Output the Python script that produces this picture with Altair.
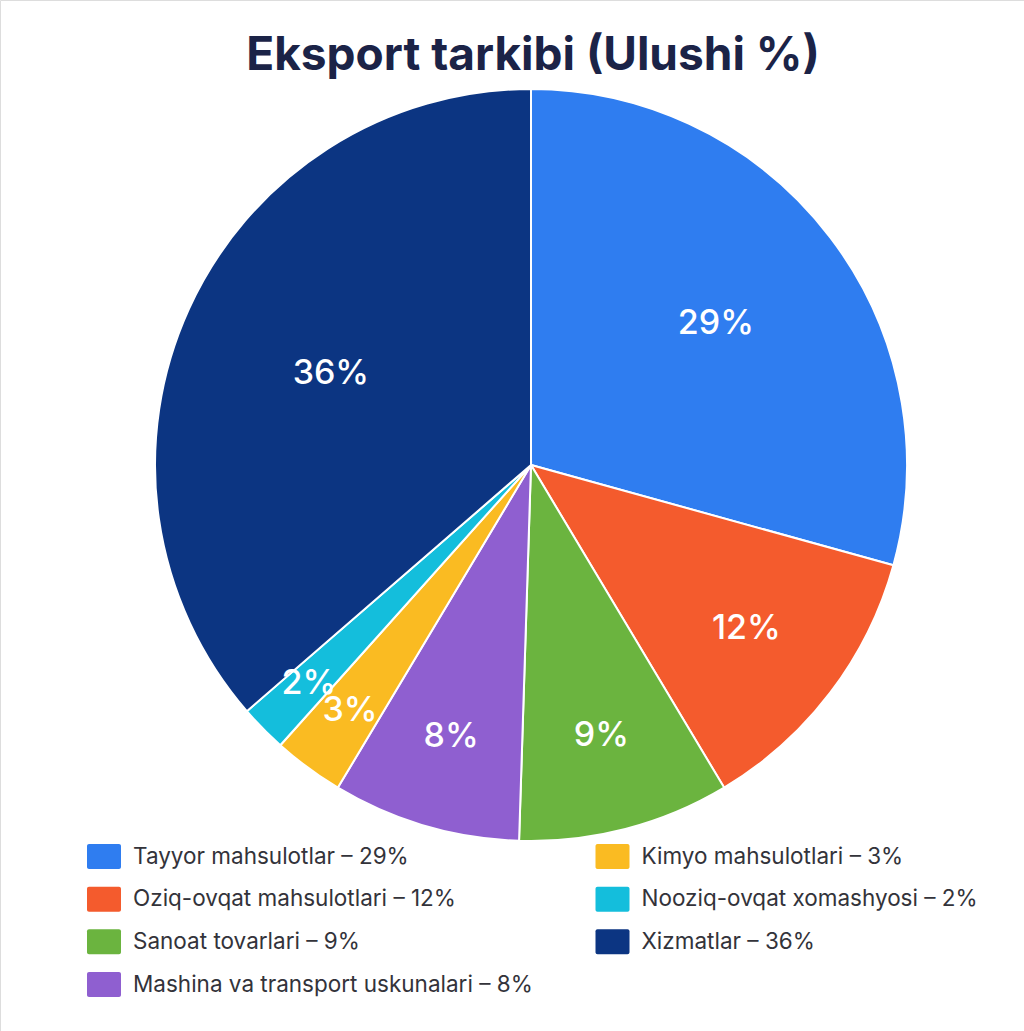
import altair as alt
import pandas as pd

categories = [
    "Tayyor mahsulotlar",
    "Oziq-ovqat mahsulotlari",
    "Sanoat tovarlari",
    "Mashina va transport uskunalari",
    "Kimyo mahsulotlari",
    "Nooziq-ovqat xomashyosi",
    "Xizmatlar",
]
values = [29, 12, 9, 8, 3, 2, 36]
colors = ["#2F7DF0", "#F45B2D", "#6BB43F", "#8F5FD0", "#FABB22", "#14BEDC", "#0C3582"]
legend_col = [0, 0, 0, 0, 1, 1, 1]
legend_row = [0, 1, 2, 3, 0, 1, 2]

df = pd.DataFrame({
    "cat": categories,
    "v": values,
    "idx": list(range(len(categories))),
    "col": legend_col,
    "row": legend_row,
})
df["pct"] = [f"{v}%" for v in values]
df["leg"] = [f"{c} – {v}%" for c, v in zip(categories, values)]

color = alt.Color("cat:N", scale=alt.Scale(domain=categories, range=colors), legend=None)
CX, CY, R = 531, 465, 376

base = alt.Chart(df)

pie = base.mark_arc(radius=R, stroke="white", strokeWidth=2).encode(
    theta=alt.Theta("v:Q", stack=True),
    order=alt.Order("idx:Q"),
    color=color,
    x=alt.value(CX),
    y=alt.value(CY),
)

labels = base.transform_window(
    cum="sum(v)", sort=[alt.SortField("idx")], frame=[None, 0]
).transform_calculate(
    mid="datum.cum - datum.v / 2",
    lr="340 - 20 * sqrt(datum.v)",
).mark_text(
    color="white", fontSize=34, fontWeight=500, font="Inter",
    align="center", baseline="middle"
).encode(
    theta=alt.Theta("mid:Q", stack=None),
    radius=alt.Radius("lr:Q", scale=None),
    text="pct:N",
    x=alt.value(CX),
    y=alt.value(CY),
)

xs = alt.X("col:Q", scale=alt.Scale(domain=[0, 1], range=[104, 612.5]), axis=None)
ys = alt.Y("row:Q", scale=alt.Scale(domain=[0, 3], range=[856.5, 984.5]), axis=None)

leg_rect = base.mark_rect(width=34, height=25, cornerRadius=2).encode(
    x=xs, y=ys, color=color
)
leg_text = base.mark_text(
    align="left", baseline="middle", dx=29, fontSize=22.5, font="Inter", color="#33333A"
).encode(x=xs, y=ys, text="leg:N")

chart = alt.layer(pie, labels, leg_rect, leg_text).properties(
    width=1024,
    height=1031,
    autosize=alt.AutoSizeParams(type="none"),
    padding=0,
    title=alt.TitleParams(
        "Eksport tarkibi (Ulushi %)",
        fontSize=46, fontWeight="bold", font="Inter", color="#1B2347",
        anchor="middle", dy=84, dx=21,
    ),
).configure_view(stroke=None).configure(background="white")

chart.save("out.html", embed_options={"renderer": "svg", "actions": False})
